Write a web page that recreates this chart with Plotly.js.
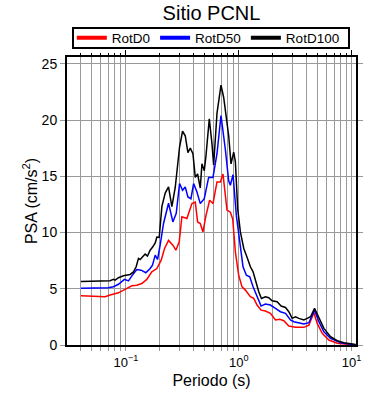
<!DOCTYPE html>
<html>
<head>
<meta charset="utf-8">
<script src="https://cdn.plot.ly/plotly-3.0.1.min.js"></script>
<style>html,body{margin:0;padding:0;background:#fff;}#chart{width:390px;height:400px;}</style>
</head>
<body>
<div id="chart"></div>
<script>
// Period (s) and PSA (cm/s^2)
var periodD100 = [0.040,0.0725,0.0776,0.0803,0.086,0.0952,0.1091,0.1168,0.1234,0.1294,0.1339,0.1414,0.1483,0.1555,0.1642,0.1734,0.182,0.1883,0.1975,0.2085,0.2232,0.2389,0.2558,0.2739,0.2992,0.3181,0.336,0.3548,0.3723,0.3931,0.4123,0.4324,0.4566,0.4724,0.4955,0.5127,0.5488,0.5796,0.5998,0.6421,0.6968,0.736,0.7613,0.8152,0.855,0.9029,0.9341,0.9797,1.0346,1.1076,1.1858,1.2695,1.3407,1.406,1.5051,1.5896,1.7253,1.8469,1.977,2.1899,2.3768,2.5967,2.7797,2.9764,3.1863,3.4111,3.7785,4.0454,4.3313,4.699,5.134,5.687,6.5197,7.4682,8.5609,10.503,10.87];
var psaD100 = [5.65,5.72,5.83,5.77,5.98,6.15,6.27,6.5,6.95,7.7,7.6,7.84,8.08,7.9,8.43,8.73,9.08,9.6,9.56,12.3,13.5,14.05,12.3,14.0,17.6,19.0,18.6,17.1,17.5,17.0,14.9,15.2,13.95,16.1,15.5,16.8,20.1,17.9,16.0,20.6,23.1,22.0,21.0,18.6,16.1,17.15,16.3,12.1,10.05,8.6,7.8,6.95,6.5,5.77,4.73,4.14,4.29,4.2,3.93,3.85,3.46,3.34,2.96,2.37,2.51,2.37,2.22,2.37,2.51,3.26,2.37,1.48,0.74,0.38,0.2,0.06,0.05];

var periodD50 = [0.040,0.0701,0.0776,0.086,0.0972,0.1055,0.1144,0.1251,0.1367,0.1503,0.1642,0.1722,0.182,0.1909,0.2015,0.2157,0.2389,0.2611,0.2796,0.2992,0.3181,0.336,0.3548,0.3773,0.3985,0.4266,0.4566,0.4955,0.5416,0.5916,0.6421,0.6968,0.7613,0.8152,0.8432,0.8906,0.9534,1.0346,1.0925,1.1697,1.2523,1.3407,1.4548,1.5788,1.7253,1.9104,2.1169,2.3442,2.5967,2.8766,3.0786,3.4111,3.7785,4.1849,4.699,5.134,5.687,6.5197,7.9982,10.503,10.87];
var psaD50 = [5.05,5.09,5.18,5.4,5.83,5.7,6.21,6.71,6.65,6.42,6.8,7.1,7.99,7.6,8.9,10.8,12.6,10.94,11.7,14.35,13.75,14.05,13.16,13.0,14.35,13.6,12.57,13.0,14.9,14.9,17.0,20.4,17.4,14.6,14.2,15.15,11.5,8.5,6.95,6.2,6.06,5.17,4.29,3.46,3.64,3.55,3.26,2.96,2.81,2.22,2.07,1.98,1.86,1.98,3.1,2.07,1.18,0.59,0.2,0.03,0.02];

var periodD0 = [0.040,0.0655,0.0725,0.086,0.0985,0.1129,0.1251,0.1385,0.1534,0.1699,0.1883,0.2057,0.2203,0.2389,0.2611,0.2777,0.2972,0.3138,0.3476,0.3851,0.4123,0.4324,0.4566,0.4822,0.5127,0.5526,0.5916,0.6421,0.6874,0.7257,0.7877,0.8432,0.8846,0.9341,1.0,1.0705,1.146,1.2695,1.3592,1.4548,1.5788,1.7253,1.9104,2.1169,2.3125,2.5093,2.7797,3.1863,3.7785,4.1849,4.6364,4.9634,5.4967,6.3003,7.4682,10.503,10.87];
var psaD0 = [4.37,4.29,4.44,4.64,4.94,5.26,5.32,5.47,5.83,6.5,6.8,7.54,8.58,9.3,8.87,8.43,9.17,11.4,11.24,12.57,12.7,10.94,10.8,10.05,11.5,12.87,12.57,14.5,14.5,15.2,12.0,11.8,11.2,8.28,6.2,5.17,4.88,4.29,4.14,3.55,3.1,3.02,2.81,2.22,2.28,2.16,1.69,1.57,1.57,1.77,2.87,1.92,1.04,0.44,0.15,0.02,0.0];

var seriesNames = ['RotD0','RotD50','RotD100'];
var seriesColors = ['#ff0000','#0000ff','#000000'];
var majorX = [0.1, 1, 10];
var majorXText = ['10<sup>−1</sup>','10<sup>0</sup>','10<sup>1</sup>'];
var minorX = [0.03,0.04,0.05,0.06,0.07,0.08,0.09,0.2,0.3,0.4,0.5,0.6,0.7,0.8,0.9,2,3,4,5,6,7,8,9];
var yTicks = [0,5,10,15,20,25];

var font = 'Liberation Sans, Arial, Helvetica, sans-serif';
var xs = [periodD0, periodD50, periodD100];
var ys = [psaD0, psaD50, psaD100];
var traces = [];
for (var i = 0; i < 3; i++) {
  traces.push({x: xs[i], y: ys[i], type: 'scatter', mode: 'lines', name: seriesNames[i],
    line: {color: seriesColors[i], width: 1.5}, showlegend: false, hoverinfo: 'skip'});
}
for (var j = 0; j < 3; j++) {
  traces.push({x: [null], y: [null], xaxis: 'x2', type: 'scatter', mode: 'lines', name: seriesNames[j],
    line: {color: seriesColors[j], width: 4}, showlegend: true});
}
var xr = [Math.log10(0.0301), Math.log10(10.95)];
var layout = {
  width: 390, height: 400,
  margin: {l: 67, r: 34, t: 57, b: 55},
  paper_bgcolor: '#fff', plot_bgcolor: '#fff',
  font: {family: font, color: '#000'},
  title: {text: 'Sitio PCNL', font: {size: 20, family: font}, xref: 'paper', x: 0.5, xanchor: 'center', y: 0.967, yanchor: 'middle'},
  showlegend: true,
  legend: {orientation: 'h', x: 0.489, xanchor: 'center', y: 1.066, yanchor: 'middle', xref: 'paper', yref: 'paper',
    borderwidth: 0, bgcolor: 'rgba(0,0,0,0)', font: {size: 13.5, family: font}, itemwidth: 30},
  shapes: [{type: 'rect', xref: 'paper', yref: 'paper', x0: 0.0208, x1: 0.9758, y0: 1.0313, y1: 1.1007,
    line: {color: '#000', width: 2}, fillcolor: '#fff', layer: 'above'}],
  xaxis: {type: 'log', range: xr, tickmode: 'array', tickvals: majorX, ticktext: majorXText,
    ticks: 'outside', ticklen: 4, tickcolor: '#999', tickwidth: 1,
    showgrid: true, gridcolor: '#999', gridwidth: 1,
    minor: {tickmode: 'array', tickvals: minorX, ticks: 'outside', ticklen: 4, tickcolor: '#999', showgrid: true, gridcolor: '#999', gridwidth: 1},
    showline: true, linecolor: '#000', linewidth: 2, mirror: true, zeroline: false,
    tickfont: {size: 13, family: font},
    title: {text: 'Periodo (s)', font: {size: 16, family: font}, standoff: 6}},
  xaxis2: {type: 'log', range: xr, overlaying: 'x', side: 'top', anchor: 'y', tickmode: 'array', tickvals: majorX, showticklabels: false,
    ticks: 'outside', ticklen: 6, tickcolor: '#000', tickwidth: 1, showgrid: false, showline: false, zeroline: false,
    minor: {tickmode: 'array', tickvals: minorX, ticks: 'outside', ticklen: 3, tickcolor: '#000', showgrid: false}},
  yaxis: {range: [0, 25.6], tickmode: 'array', tickvals: yTicks, ticks: 'outside', ticklen: 5, tickcolor: '#999', tickwidth: 1,
    showgrid: true, gridcolor: '#999', gridwidth: 1, showline: true, linecolor: '#000', linewidth: 2, mirror: 'ticks', zeroline: false,
    tickfont: {size: 14, family: font},
    title: {text: 'PSA (cm/s<sup>2</sup>)', font: {size: 16, family: font}, standoff: 0}}
};
Plotly.newPlot('chart', traces, layout, {displayModeBar: false, staticPlot: true});
</script>
</body>
</html>
